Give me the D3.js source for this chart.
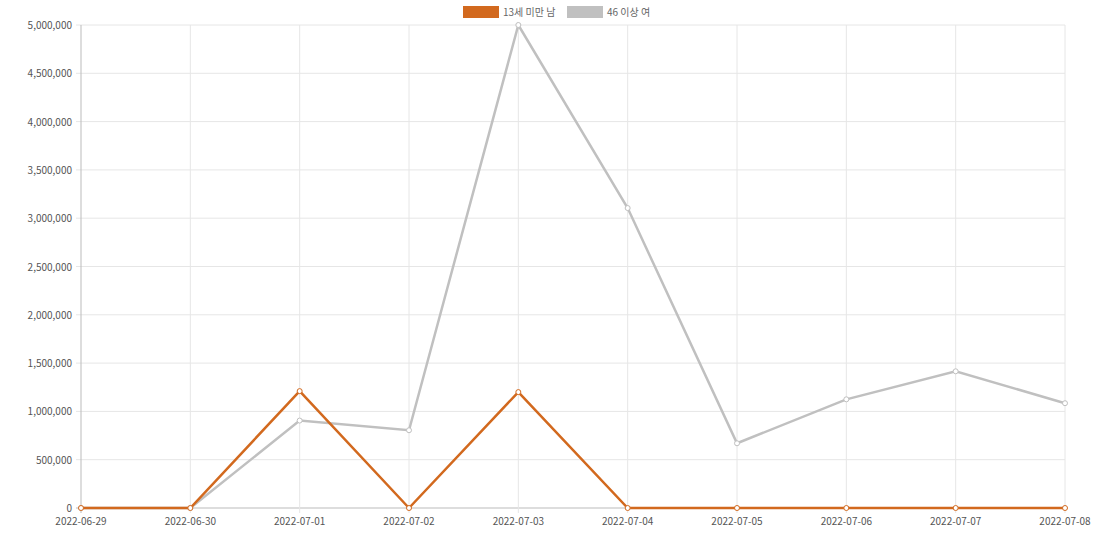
<!DOCTYPE html>
<html><head><meta charset="utf-8">
<script src="https://cdn.jsdelivr.net/npm/d3@7"></script>
<style>body{margin:0;background:#fff}text{font-family:"Noto Sans CJK KR","Liberation Sans",sans-serif}</style>
</head><body><svg id="c" width="1106" height="537"></svg>
<script>
var dates = ["2022-06-29","2022-06-30","2022-07-01","2022-07-02","2022-07-03","2022-07-04","2022-07-05","2022-07-06","2022-07-07","2022-07-08"];
var seriesNames = ["13세 미만 남", "46 이상 여"];
var colors = ["#d2691e", "#c0c0c0"];
var boysUnder13 = [0, 0, 1210000, 0, 1200000, 0, 0, 0, 0, 0];
var women46 = [0, 0, 905000, 805000, 5000000, 3105000, 670000, 1125000, 1415000, 1085000];
var yTicks = d3.range(0, 5000001, 500000);

var svg = d3.select("#c");
var x = d3.scalePoint().domain(dates).range([81, 1065]);
var y = d3.scaleLinear().domain([0, 5000000]).range([508, 25]);

svg.append("g").selectAll("line").data(yTicks).join("line")
  .attr("x1", 76).attr("x2", 1065).attr("y1", y).attr("y2", y)
  .attr("stroke", d => d === 0 ? "#bbb" : "#e6e6e6");
svg.append("g").selectAll("line").data(dates).join("line")
  .attr("x1", x).attr("x2", x).attr("y1", 25).attr("y2", 513)
  .attr("stroke", (d, i) => i === 0 ? "#bbb" : "#e6e6e6");

svg.append("g").selectAll("text").data(yTicks).join("text")
  .attr("x", 72).attr("y", d => y(d) + 4).attr("text-anchor", "end")
  .attr("font-size", 10).attr("fill", "#555").text(d3.format(","));
svg.append("g").selectAll("text").data(dates).join("text")
  .attr("x", x).attr("y", 525).attr("text-anchor", "middle")
  .attr("font-size", 10).attr("fill", "#555").text(d => d);

var line = d3.line().x((d, i) => x(dates[i])).y(d => y(d));
[women46, boysUnder13].forEach(function (vals) {
  var c = vals === boysUnder13 ? colors[0] : colors[1];
  svg.append("path").datum(vals).attr("d", line).attr("fill", "none")
    .attr("stroke", c).attr("stroke-width", 2.5);
  svg.append("g").selectAll("circle").data(vals).join("circle")
    .attr("cx", (d, i) => x(dates[i])).attr("cy", y).attr("r", 2.5)
    .attr("fill", "#fff").attr("stroke", c).attr("stroke-width", 1);
});

var lg = svg.append("g");
var lx = [463, 567];
seriesNames.forEach(function (n, i) {
  lg.append("rect").attr("x", lx[i]).attr("y", 6).attr("width", 36).attr("height", 12).attr("fill", colors[i]);
  lg.append("text").attr("x", lx[i] + 40).attr("y", 16).attr("font-size", 10).attr("fill", "#666").text(n);
});
</script></body></html>
